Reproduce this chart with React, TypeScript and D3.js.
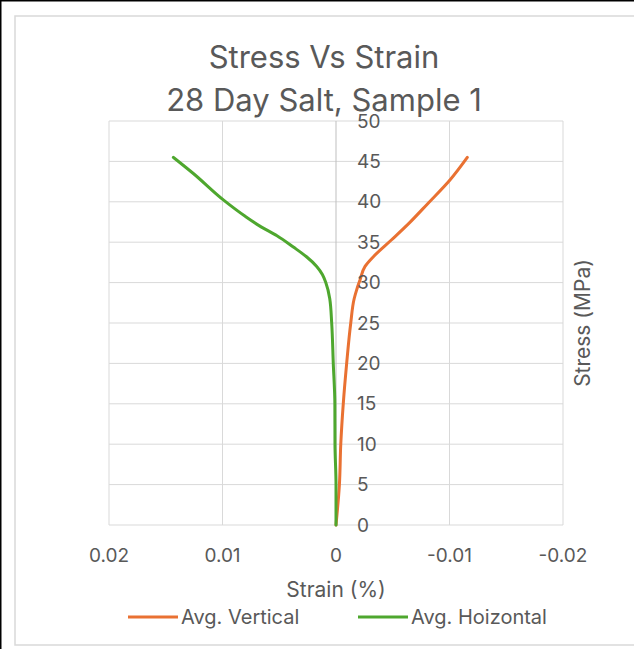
import React from "react";
import * as d3 from "d3";

const verticalStrain = [0, -0.0003, -0.00042, -0.00064, -0.00094, -0.0013, -0.0016, -0.00182, -0.00211, -0.00256, -0.00329, -0.0049, -0.0064, -0.0081, -0.01004, -0.01157];
const verticalStress = [0, 5, 10, 15, 20, 25, 28, 29.1, 30.3, 32, 33.2, 35.3, 37.3, 39.8, 42.7, 45.5];
const horizontalStrain = [0, 0, 0.00009, 0.0001, 0.00024, 0.00038, 0.00055, 0.0009, 0.0012, 0.0017, 0.0026, 0.00376, 0.0052, 0.0066, 0.008, 0.0099, 0.01257, 0.01433];
const horizontalStress = [0, 5, 10, 15, 20, 25, 28, 30, 31, 32, 33.2, 34.4, 35.8, 36.9, 38.2, 40.2, 43.5, 45.5];
const xTicks = [0.02, 0.01, 0, -0.01, -0.02];
const yTicks = [0, 5, 10, 15, 20, 25, 30, 35, 40, 45, 50];
const seriesNames = ["Avg. Vertical", "Avg. Hoizontal"];
const seriesColors = ["#E97132", "#4EA72E"];

const W = 634;
const H = 649;
const FONT = "Inter, 'Open Sans', sans-serif";
const TXT = "#595959";

export default function App() {
  const x = d3.scaleLinear().domain([0.02, -0.02]).range([109, 563]);
  const y = d3.scaleLinear().domain([0, 50]).range([525, 121]);
  const line = d3
    .line<[number, number]>()
    .x((d) => x(d[0]))
    .y((d) => y(d[1]))
    .curve(d3.curveMonotoneY);
  const vPts: [number, number][] = verticalStrain.map((s, i) => [s, verticalStress[i]]);
  const hPts: [number, number][] = horizontalStrain.map((s, i) => [s, horizontalStress[i]]);
  const fmtX = (v: number) => (v === 0 ? "0" : String(v));

  return (
    <svg
      width={W}
      height={H}
      style={{ position: "absolute", left: 0, top: 0, background: "#fff" }}
      fontFamily={FONT}
    >
      <rect x={0} y={0} width={W} height={H} fill="#fff" />
      <line x1={0} y1={0.5} x2={W} y2={0.5} stroke="#000" strokeWidth={2} />
      <line x1={0.5} y1={0} x2={0.5} y2={H} stroke="#000" strokeWidth={2} />
      <rect x={15} y={16} width={W} height={629} fill="none" stroke="#d9d9d9" strokeWidth={1.5} />

      {/* grid */}
      {yTicks.map((t) => (
        <line key={"gy" + t} x1={x(0.02)} x2={x(-0.02)} y1={y(t)} y2={y(t)} stroke="#d9d9d9" strokeWidth={1} />
      ))}
      {xTicks.map((t) => (
        <line
          key={"gx" + t}
          x1={x(t)}
          x2={x(t)}
          y1={y(0)}
          y2={y(50)}
          stroke={t === 0 ? "#bfbfbf" : "#d9d9d9"}
          strokeWidth={1}
        />
      ))}

      {/* series */}
      <path d={line(vPts) || ""} fill="none" stroke={seriesColors[0]} strokeWidth={3} strokeLinecap="round" />
      <path d={line(hPts) || ""} fill="none" stroke={seriesColors[1]} strokeWidth={3} strokeLinecap="round" />

      {/* y tick labels */}
      {yTicks.map((t) => (
        <text key={"ly" + t} x={x(0) + 21} y={y(t)} dy="0.35em" fontSize={19} fill={TXT}>
          {t}
        </text>
      ))}
      {/* x tick labels */}
      {xTicks.map((t) => (
        <text key={"lx" + t} x={x(t)} y={562} textAnchor="middle" fontSize={19} fill={TXT}>
          {fmtX(t)}
        </text>
      ))}

      {/* titles */}
      <text x={324} y={68} textAnchor="middle" fontSize={31} fill={TXT}>
        Stress Vs Strain
      </text>
      <text x={324} y={111} textAnchor="middle" fontSize={31} fill={TXT}>
        28 Day Salt, Sample 1
      </text>
      <text x={336} y={597} textAnchor="middle" fontSize={21} fill={TXT}>
        Strain (%)
      </text>
      <text
        transform={`translate(590,323) rotate(-90)`}
        textAnchor="middle"
        fontSize={21}
        fill={TXT}
      >
        Stress (MPa)
      </text>

      {/* legend */}
      {seriesNames.map((n, i) => {
        const lx = i === 0 ? 128 : 358;
        return (
          <g key={n}>
            <line x1={lx} x2={lx + 50} y1={617} y2={617} stroke={seriesColors[i]} strokeWidth={3} />
            <text x={lx + 53} y={617} dy="0.35em" fontSize={20} fill={TXT}>
              {n}
            </text>
          </g>
        );
      })}
    </svg>
  );
}
